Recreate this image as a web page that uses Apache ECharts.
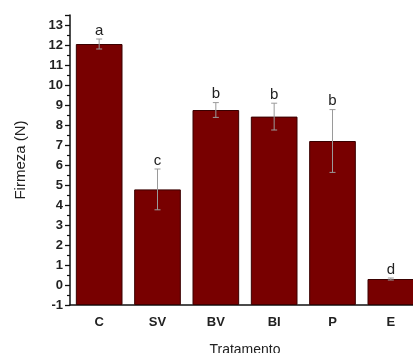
<!DOCTYPE html>
<html><head><meta charset="utf-8">
<script src="https://cdn.jsdelivr.net/npm/echarts@6/dist/echarts.min.js"></script>
<style>html,body{margin:0;padding:0;background:#fff}#c{width:413px;height:353px}</style>
</head><body><div id="c"></div>
<script>
const categories = ['C', 'SV', 'BV', 'BI', 'P', 'E'];
const firmeza = [12.05, 4.78, 8.75, 8.42, 7.2, 0.3];
const errors = [0.25, 1.02, 0.37, 0.67, 1.57, 0.05];
const letters = ['a', 'c', 'b', 'b', 'b', 'd'];
const yTicks = { min: -1, max: 13.5, interval: 1 };

const chart = echarts.init(document.getElementById('c'), null, { renderer: 'canvas' });
const errData = categories.map((c, i) => [i, firmeza[i], errors[i], letters[i]]);
chart.setOption({
  animation: false,
  grid: { left: 70, top: 15, width: 350, bottom: 48, containLabel: false, outerBoundsMode: 'none' },
  xAxis: [{
    type: 'category', data: categories,
    axisLine: { onZero: false, lineStyle: { color: '#111', width: 1.5 } },
    axisTick: { alignWithLabel: true, length: 6, lineStyle: { color: '#111', width: 1.3 } },
    axisLabel: { fontFamily: 'Liberation Sans, Arial', fontWeight: 'bold', fontSize: 13, color: '#222', margin: 11 },
    name: 'Tratamento', nameLocation: 'middle', nameGap: 38,
    nameTextStyle: { fontFamily: 'Liberation Sans, Arial', fontSize: 14, color: '#222' }
  }, {
    type: 'category', data: categories, position: 'bottom',
    axisLine: { show: false, onZero: false },
    axisTick: { length: 3, lineStyle: { color: '#111', width: 1.3 } },
    axisLabel: { show: false }
  }],
  yAxis: {
    type: 'value', min: yTicks.min, max: yTicks.max, interval: yTicks.interval, startValue: -1,
    axisLine: { show: true, onZero: false, lineStyle: { color: '#111', width: 1.5 } },
    axisTick: { show: true, inside: false, length: 5, lineStyle: { color: '#111', width: 1.3 } },
    minorTick: { show: true, splitNumber: 2, length: 3, lineStyle: { color: '#111', width: 1.2 } },
    splitLine: { show: false },
    axisLabel: { showMaxLabel: false, fontFamily: 'Liberation Sans, Arial', fontWeight: 'bold', fontSize: 13, color: '#222', margin: 7,
      formatter: v => Number.isInteger(v) ? String(v) : '' },
    name: 'Firmeza (N)', nameLocation: 'middle', nameGap: 42, nameRotate: 90,
    nameTextStyle: { fontFamily: 'Liberation Sans, Arial', fontSize: 15, color: '#222' }
  },
  series: [{
    type: 'bar', data: firmeza, barCategoryGap: '20%',
    itemStyle: { color: '#780000', borderColor: '#3a0000', borderWidth: 1 }
  }, {
    type: 'custom', data: errData, z: 10,
    renderItem: (params, api) => {
      const x = api.value(0), v = api.value(1), e = api.value(2);
      const top = api.coord([x, v + e]);
      const bot = api.coord([x, v - e]);
      const hw = 3;
      return {
        type: 'group', children: [
          { type: 'line', shape: { x1: top[0], y1: top[1], x2: bot[0], y2: bot[1] }, style: { stroke: '#9a9a9a', lineWidth: 1 } },
          { type: 'line', shape: { x1: top[0] - hw, y1: top[1], x2: top[0] + hw, y2: top[1] }, style: { stroke: '#9a9a9a', lineWidth: 1 } },
          { type: 'line', shape: { x1: bot[0] - hw, y1: bot[1], x2: bot[0] + hw, y2: bot[1] }, style: { stroke: '#9a9a9a', lineWidth: 1 } },
          { type: 'text', style: { text: letters[params.dataIndex], x: top[0], y: top[1] - 1, align: 'center', verticalAlign: 'bottom',
            font: '15px Liberation Sans, Arial', fill: '#222' } }
        ]
      };
    }
  }]
});
</script></body></html>
